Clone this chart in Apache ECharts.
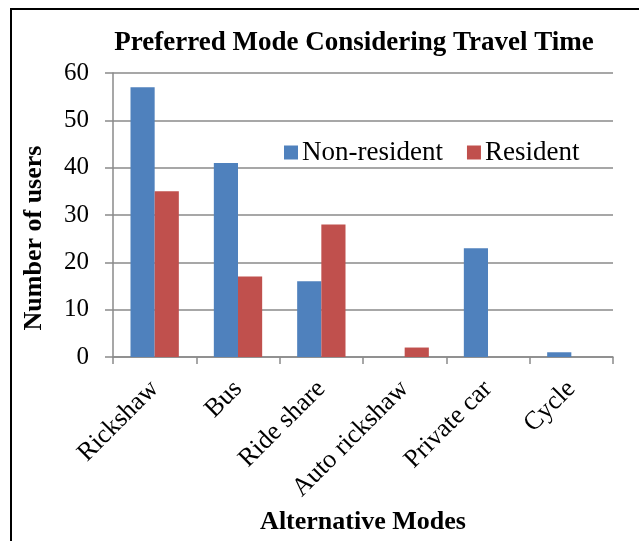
<!DOCTYPE html>
<html>
<head>
    <meta charset="utf-8">
    <title>Preferred Mode Considering Travel Time</title>
    <script src="https://cdn.jsdelivr.net/npm/echarts@6/dist/echarts.min.js"></script>
    <style>
        html, body { margin: 0; padding: 0; background: #fff; }
        #chart-container { width: 639px; height: 541px; }
    </style>
</head>
<body>
<div id="chart-container"></div>
<script>
    // data
    var modes = ['Rickshaw', 'Bus', 'Ride share', 'Auto rickshaw', 'Private car', 'Cycle'];
    var nonResident = [57, 41, 16, 0, 23, 1];
    var resident = [35, 17, 28, 2, 0, 0];
    var yTicks = [0, 10, 20, 30, 40, 50, 60];

    var serif = '"Liberation Serif", "Times New Roman", serif';
    var gridColor = '#8a8a8a';

    var myChart = echarts.init(document.getElementById('chart-container'));

    var option = {
        backgroundColor: '#fff',
        animation: false,
        title: {
            text: 'Preferred Mode Considering Travel Time',
            left: 349,
            textAlign: 'center',
            top: 25,
            textStyle: {
                fontFamily: serif,
                fontWeight: 'bold',
                fontSize: 27,
                color: '#000'
            }
        },
        legend: {
            left: 284,
            top: 139,
            padding: 0,
            itemWidth: 14,
            itemHeight: 14,
            itemGap: 24,
            icon: 'rect',
            textStyle: {
                fontFamily: serif,
                fontSize: 27,
                color: '#000',
                padding: [0, 0, 0, -1]
            },
            data: ['Non-resident', 'Resident']
        },
        grid: {
            left: 113,
            right: 26,
            top: 73,
            bottom: 184,
            outerBoundsMode: 'none'
        },
        xAxis: {
            type: 'category',
            data: modes,
            name: 'Alternative Modes',
            nameLocation: 'middle',
            nameGap: 152,
            nameTextStyle: {
                fontFamily: serif,
                fontWeight: 'bold',
                fontSize: 26,
                color: '#000'
            },
            axisLine: { lineStyle: { color: gridColor, width: 1.5 } },
            axisTick: { show: true, length: 7, alignWithLabel: false, lineStyle: { color: gridColor, width: 1.5 } },
            axisLabel: {
                rotate: 45,
                margin: 28,
                fontFamily: serif,
                fontSize: 26,
                color: '#000'
            }
        },
        yAxis: {
            type: 'value',
            min: yTicks[0],
            max: yTicks[yTicks.length - 1],
            interval: 10,
            name: 'Number of users',
            nameLocation: 'middle',
            nameGap: 66,
            nameTextStyle: {
                fontFamily: serif,
                fontWeight: 'bold',
                fontSize: 26,
                color: '#000',
                padding: [0, 46, 0, 0]
            },
            axisLine: { show: true, lineStyle: { color: gridColor, width: 1.5 } },
            axisTick: { show: true, length: 8, lineStyle: { color: gridColor, width: 1.5 } },
            axisLabel: {
                margin: 24,
                fontFamily: serif,
                fontSize: 25,
                color: '#000'
            },
            splitLine: { lineStyle: { color: gridColor, width: 1.5 } }
        },
        series: [{
            name: 'Non-resident',
            type: 'bar',
            data: nonResident,
            barGap: '0%',
            barCategoryGap: '42%',
            itemStyle: { color: '#4f81bd' }
        }, {
            name: 'Resident',
            type: 'bar',
            data: resident,
            itemStyle: { color: '#c0504d' }
        }],
        graphic: [{
            type: 'rect',
            shape: { x: 11, y: 9, width: 660, height: 600 },
            style: { fill: null, stroke: '#000', lineWidth: 2 },
            silent: true
        }]
    };

    myChart.setOption(option);
</script>
</body>
</html>
